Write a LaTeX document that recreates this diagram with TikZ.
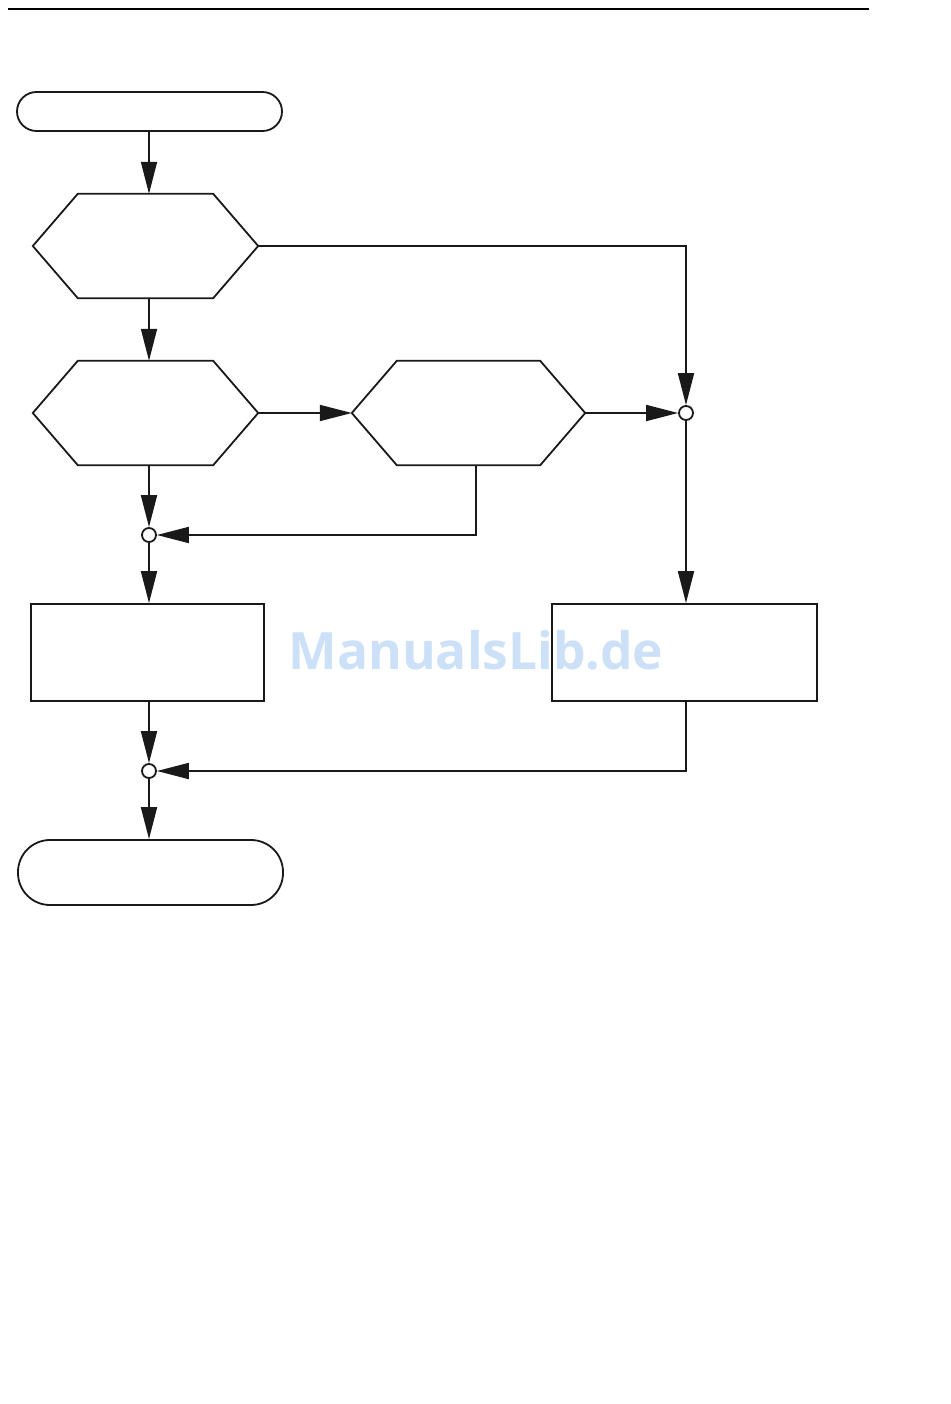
\documentclass[tikz,border=0pt]{standalone}
\usepackage{fontspec}
\newfontfamily\wmfont{Open Sans}
\usetikzlibrary{arrows.meta}
\definecolor{wmblue}{RGB}{204,224,248}
\tikzset{
  ln/.style={line width=1.8pt, draw=black!90},
  arr/.style={ln, -{Triangle[length=32pt,width=16pt]}},
  term/.style={ln, rectangle, inner sep=0pt, minimum width=265pt},
  hexbox/.style={rectangle, inner sep=0pt, draw=none, minimum height=104pt},
  procbox/.style={ln, rectangle, inner sep=0pt, minimum height=97pt},
  junc/.style={ln, circle, fill=white, inner sep=0pt, minimum size=14pt}
}
\begin{document}
\begin{tikzpicture}[x=1pt,y=-1pt]
\useasboundingbox (0,0) rectangle (950,1404);
% top rule
\coordinate (ruleL) at (8,9);
\coordinate (ruleR) at (869,9);
\draw[line width=1.5pt] (ruleL) -- (ruleR);
% nodes
\node[term, minimum height=39pt, rounded corners=19.5pt] (start) at (149.5,111.5) {};
\node[hexbox, minimum width=225pt] (h1) at (145.5,246) {};
\node[hexbox, minimum width=225pt] (h2) at (145.5,413) {};
\node[hexbox, minimum width=233pt] (h3) at (468.5,413) {};
\node[junc] (jA) at (686,413) {};
\node[junc] (jB) at (149,535) {};
\node[procbox, minimum width=233pt] (lbox) at (147.5,652.5) {};
\node[procbox, minimum width=265pt] (rbox) at (684.5,652.5) {};
\node[junc] (jC) at (149,771) {};
\node[term, minimum height=65pt, rounded corners=32pt] (stop) at (150.5,872.5) {};
% hexagons
\foreach \h in {h1,h2,h3}
  \draw[ln, line join=miter] (\h.west) -- ([xshift=45pt]\h.north west) -- ([xshift=-45pt]\h.north east)
    -- (\h.east) -- ([xshift=-45pt]\h.south east) -- ([xshift=45pt]\h.south west) -- cycle;
% connectors
\draw[arr] (start.south -| jB) -- (h1.north -| jB);
\draw[arr] (h1.south -| jB) -- (h2.north -| jB);
\draw[arr] (h1.east) -| (jA);
\draw[arr] (h2.east) -- (h3.west);
\draw[arr] (h3.east) -- (jA);
\draw[arr] (h2.south -| jB) -- (jB);
\draw[arr] ([xshift=7.5pt]h3.south) |- (jB);
\draw[arr] (jB) -- (lbox.north -| jB);
\draw[arr] (jA) -- (rbox.north -| jA);
\draw[arr] (lbox.south -| jC) -- (jC);
\draw[arr] (rbox.south -| jA) |- (jC);
\draw[arr] (jC) -- (stop.north -| jC);
% watermark
\node[text=wmblue, font=\wmfont\bfseries\fontsize{51.5}{52}\selectfont, inner sep=0pt] (wm) at (476,650) {ManualsLib.de};
\end{tikzpicture}
\end{document}
